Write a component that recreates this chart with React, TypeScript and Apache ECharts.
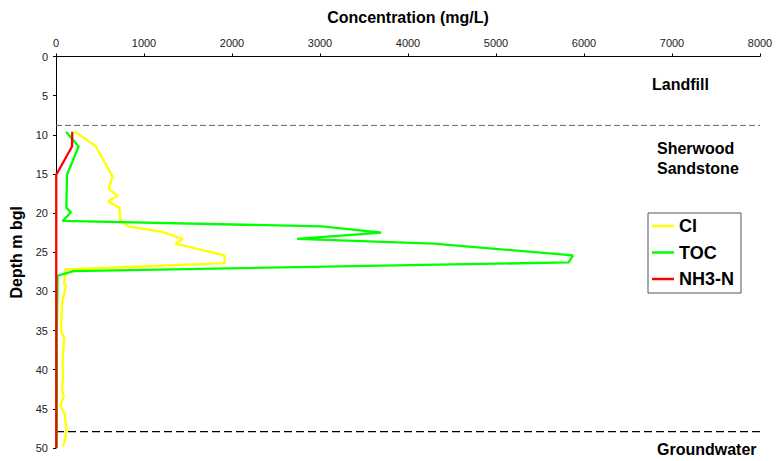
import React, { useEffect, useRef } from "react";
import * as echarts from "echarts";

const seriesNames = ["Cl", "TOC", "NH3-N"];
const xTicks = { min: 0, max: 8000, interval: 1000 };
const yTicks = { min: 0, max: 50, interval: 5 };

// [concentration mg/L, depth m bgl]
const clData: [number, number][] = [
  [212, 9.6], [447, 11.4], [643, 15.3], [598, 16.9], [700, 17.8], [591, 18.5],
  [720, 19.3], [731, 20.9], [825, 21.7], [1205, 22.4], [1443, 23.3], [1356, 23.9],
  [1916, 25.4], [1916, 26.4], [106, 27.2], [106, 28.1], [87, 29.0], [114, 29.2],
  [68, 31.5], [57, 35.0], [94, 36.0], [75, 38.8], [80, 40.9], [68, 42.6],
  [87, 43.4], [49, 44.7], [98, 45.6], [117, 47.7], [106, 48.8], [80, 49.8],
];
const tocData: [number, number][] = [
  [114, 9.6], [257, 11.5], [125, 15.1], [117, 19.3], [170, 19.9], [75, 21.0],
  [3023, 21.7], [3697, 22.5], [2739, 23.3], [4291, 23.9], [5875, 25.4], [5825, 26.3],
  [200, 27.4], [18, 28.0], [10, 35], [10, 45], [8, 50],
];
const nh3Data: [number, number][] = [
  [185, 9.6], [182, 11.5], [3, 15.1], [3, 30], [3, 50],
];
const boundaryDepths = [8.8, 47.9];
const zoneLabels = ["Landfill", "Sherwood\nSandstone", "Groundwater"];

export default function App() {
  const ref = useRef<HTMLDivElement>(null);
  useEffect(() => {
    if (!ref.current) return;
    const chart = echarts.init(ref.current, undefined, { renderer: "svg" });
    const font = "'Liberation Sans', Arial, sans-serif";
    chart.setOption({
      animation: false,
      textStyle: { fontFamily: font },
      grid: { left: 56, top: 56.5, width: 704, height: 391.5 },
      xAxis: {
        type: "value",
        position: "top",
        min: xTicks.min,
        max: xTicks.max,
        interval: xTicks.interval,
        name: "Concentration (mg/L)",
        nameLocation: "middle",
        nameGap: 31,
        nameTextStyle: { fontSize: 16, fontWeight: "bold", color: "#000", fontFamily: font },
        axisLine: { show: true, lineStyle: { color: "#000", width: 1 } },
        axisTick: { show: true, length: 3, lineStyle: { color: "#000" } },
        axisLabel: {
          fontSize: 11,
          color: "#222",
          margin: 8,
          fontFamily: font,
          formatter: (v: number) => String(v),
        },
        splitLine: { show: false },
      },
      yAxis: {
        type: "value",
        inverse: true,
        min: yTicks.min,
        max: yTicks.max,
        interval: yTicks.interval,
        name: "Depth m bgl",
        nameLocation: "middle",
        nameGap: 26,
        nameRotate: 90,
        nameTextStyle: { fontSize: 16, fontWeight: "bold", color: "#000", fontFamily: font },
        axisLine: { show: true, lineStyle: { color: "#000", width: 1 } },
        axisTick: { show: true, length: 3, lineStyle: { color: "#000" } },
        axisLabel: {
          fontSize: 11,
          color: "#222",
          margin: 8,
          fontFamily: font,
          formatter: (v: number) => String(v),
        },
        splitLine: { show: false },
      },
      legend: {
        orient: "vertical",
        left: 648,
        top: 213,
        data: seriesNames,
        icon: "rect",
        itemWidth: 22,
        itemHeight: 2.5,
        itemGap: 8.5,
        padding: [4, 7, 5, 4],
        borderColor: "#555",
        borderWidth: 1,
        backgroundColor: "#fff",
        textStyle: {
          fontSize: 18,
          fontWeight: "bold",
          color: "#000",
          fontFamily: font,
          lineHeight: 18,
        },
      },
      series: [
        {
          name: "boundaryTop",
          type: "line",
          data: [[xTicks.min, boundaryDepths[0]], [xTicks.max, boundaryDepths[0]]],
          symbol: "none",
          silent: true,
          lineStyle: { color: "#666", width: 1, type: [6, 3] },
        },
        {
          name: "boundaryBottom",
          type: "line",
          data: [[xTicks.min, boundaryDepths[1]], [xTicks.max, boundaryDepths[1]]],
          symbol: "none",
          silent: true,
          lineStyle: { color: "#000", width: 1.2, type: [8, 4] },
        },
        {
          name: seriesNames[0],
          type: "line",
          data: clData,
          symbol: "none",
          color: "#FFFF00",
          lineStyle: { color: "#FFFF00", width: 2.3 },
        },
        {
          name: seriesNames[1],
          type: "line",
          data: tocData,
          symbol: "none",
          color: "#00FF00",
          lineStyle: { color: "#00FF00", width: 2.3 },
        },
        {
          name: seriesNames[2],
          type: "line",
          data: nh3Data,
          symbol: "none",
          color: "#FF0000",
          lineStyle: { color: "#FF0000", width: 2.3 },
        },
      ],
      graphic: [
        {
          type: "text",
          left: 652,
          top: 76,
          style: { text: zoneLabels[0], font: `bold 16px ${font}`, fill: "#000" },
        },
        {
          type: "text",
          left: 657,
          top: 138,
          style: { text: zoneLabels[1], font: `bold 16px ${font}`, fill: "#000", lineHeight: 20 },
        },
        {
          type: "text",
          left: 657,
          top: 441,
          style: { text: zoneLabels[2], font: `bold 16px ${font}`, fill: "#000" },
        },
      ],
    });
    return () => chart.dispose();
  }, []);
  return (
    <div
      ref={ref}
      style={{ position: "fixed", left: 0, top: 0, width: 778, height: 461, background: "#fff" }}
    />
  );
}
